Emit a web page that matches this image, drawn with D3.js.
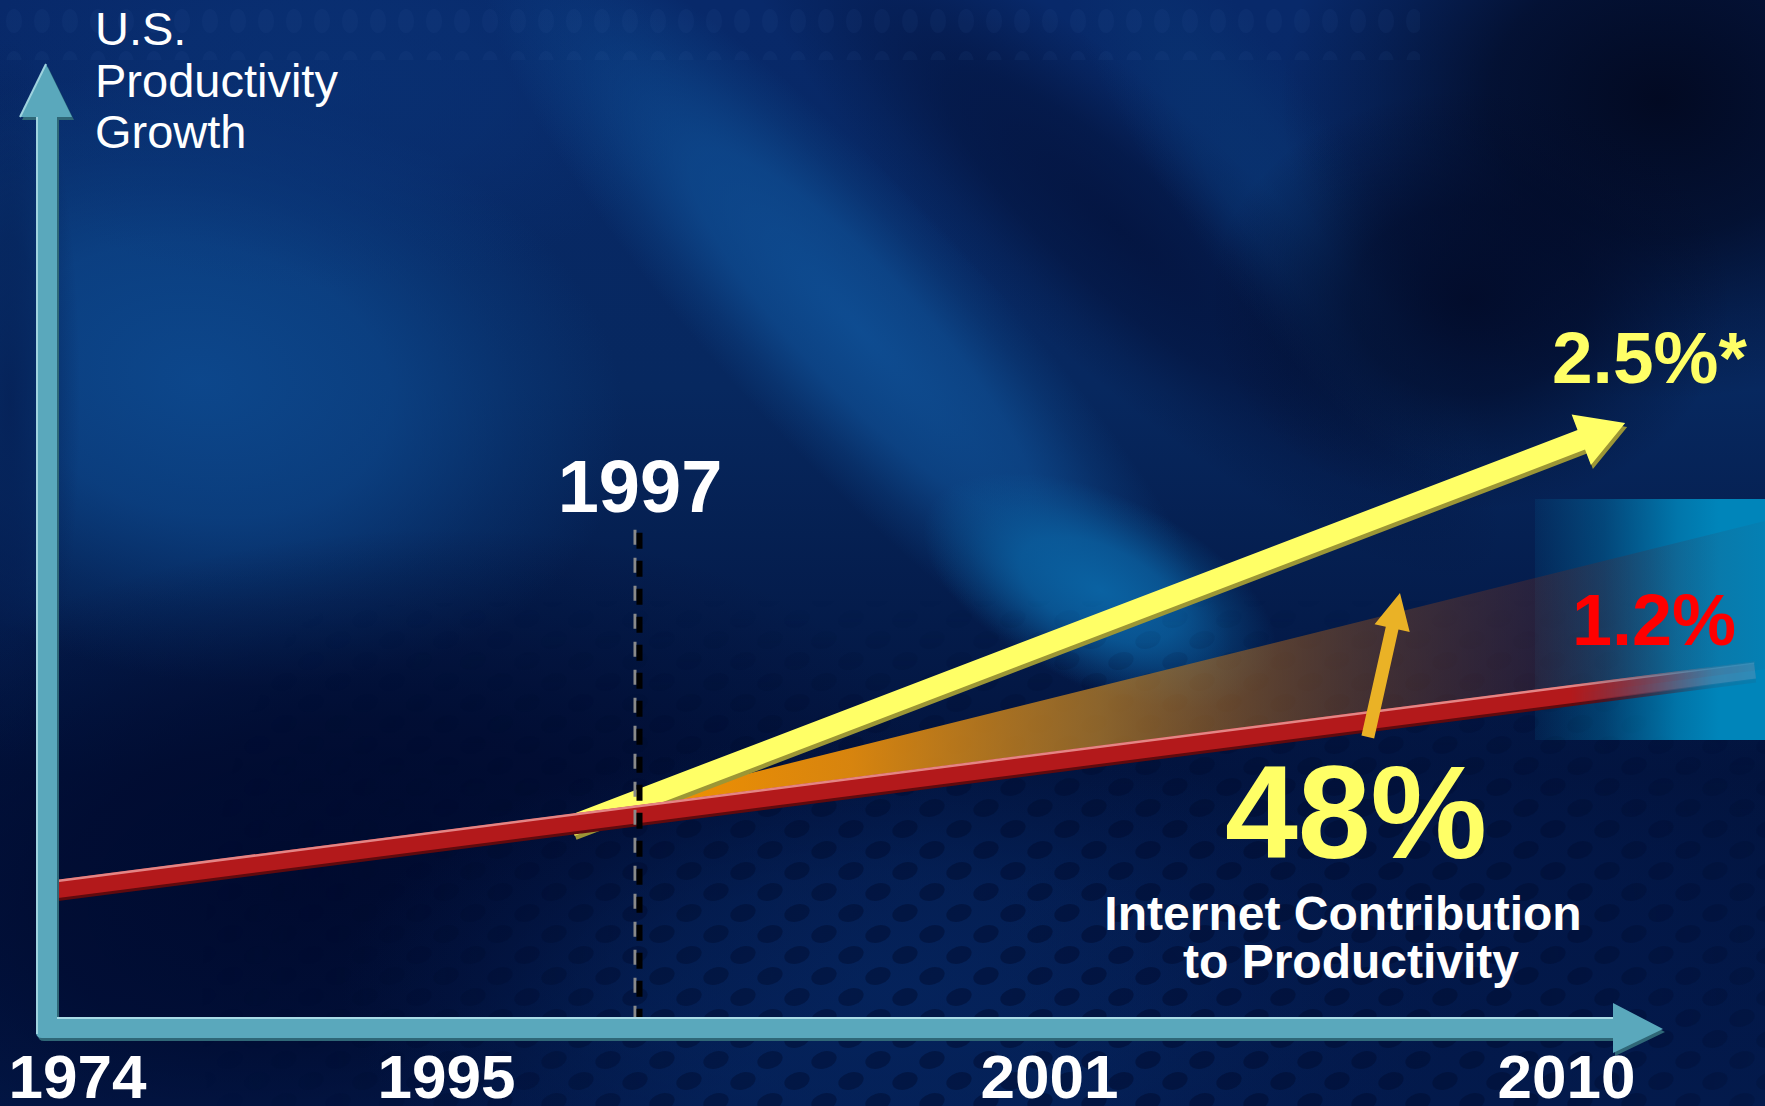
<!DOCTYPE html>
<html><head><meta charset="utf-8">
<script src="https://cdn.jsdelivr.net/npm/d3@7"></script>
<style>html,body{margin:0;padding:0;background:#021a4a;overflow:hidden}</style>
</head><body>
<svg id="chart" width="1765" height="1106"></svg>
<script>
// ---------------- DATA ----------------
const axisYears = [1974, 1995, 2001, 2010];
const markerYear = 1997;
const markerTopValue = 51.8;
const yTitleLines = ["U.S.", "Productivity", "Growth"];
// pre-internet productivity trend (1.2%)
const baselineSeries = [{year: 1972.86, value: 14.45}, {year: 2013.29, value: 37.16}];
// internet-era productivity trend (2.5%*)
const internetSeries = [{year: 1996.3, value: 21.0}, {year: 2011.03, value: 62.89}];
// internet contribution wedge
const contributionBand = [{year: 1997, low: 22.2, high: 23.6}, {year: 2013.46, low: 37.3, high: 52.7}];
// contribution arrow
const contributionArrow = [{year: 2006.55, value: 30.25}, {year: 2007.11, value: 45.22}];
const rateLabels = {internet: "2.5%*", baseline: "1.2%"};
const statValue = "48%";
const statCaption = ["Internet Contribution", "to Productivity"];

// ---------------- SETUP ----------------
const W = 1765, H = 1106;
const FONT = "'Liberation Sans', Arial, Helvetica, sans-serif";
const svg = d3.select("#chart");
const defs = svg.append("defs");

const x = d3.scaleLinear().domain([1974, 1995, 1997, 2001, 2010]).range([77, 446, 638, 1049, 1566]);
const y = d3.scaleLinear().domain([0, 100]).range([1028, 66]);

// ---------------- BACKGROUND ----------------
const bgG = defs.append("linearGradient").attr("id", "bgGrad").attr("x1", 0).attr("y1", 0).attr("x2", 0).attr("y2", 1);
[[0, "#08296a"], [0.35, "#07285f"], [0.7, "#02133d"], [1, "#031a4c"]].forEach(([o, c]) =>
  bgG.append("stop").attr("offset", o).attr("stop-color", c));

const bg = svg.append("g");
bg.append("rect").attr("width", W).attr("height", H).attr("fill", "url(#bgGrad)");
const blobs = [
  {cx: 200, cy: 380, rx: 430, ry: 300, r: 12, c: "#0d4a90", o: 0.9},
  {cx: 330, cy: 90, rx: 360, ry: 200, r: 0, c: "#0a3478", o: 0.6},
  {cx: 10, cy: 400, rx: 70, ry: 360, r: 0, c: "#041c50", o: 0.8},
  {cx: 860, cy: 330, rx: 540, ry: 130, r: 47, c: "#10559d", o: 0.8},
  {cx: 1100, cy: 590, rx: 190, ry: 95, r: 25, c: "#0a62a2", o: 1},
  {cx: 1120, cy: 230, rx: 500, ry: 130, r: 42, c: "#03113a", o: 0.8},
  {cx: 1270, cy: 190, rx: 360, ry: 90, r: 55, c: "#0a3a78", o: 0.5},
  {cx: 1660, cy: 100, rx: 380, ry: 300, r: 0, c: "#02081f", o: 0.95},
  {cx: 1470, cy: 300, rx: 260, ry: 210, r: 0, c: "#020a27", o: 0.9},
  {cx: 320, cy: 880, rx: 620, ry: 340, r: -10, c: "#000a2e", o: 0.95},
  {cx: 900, cy: 990, rx: 560, ry: 260, r: 0, c: "#062a68", o: 0.6},
  {cx: 1450, cy: 950, rx: 460, ry: 280, r: 0, c: "#03194c", o: 0.6}
];
blobs.forEach((b, i) => {
  const g = defs.append("radialGradient").attr("id", "blob" + i);
  [[0, 1], [0.45, 0.75], [0.75, 0.3], [1, 0]].forEach(([o, k]) =>
    g.append("stop").attr("offset", o).attr("stop-color", b.c).attr("stop-opacity", b.o * k));
});
bg.selectAll("ellipse.blob").data(blobs).join("ellipse").attr("class", "blob")
  .attr("cx", d => d.cx).attr("cy", d => d.cy).attr("rx", d => d.rx).attr("ry", d => d.ry)
  .attr("transform", d => `rotate(${d.r},${d.cx},${d.cy})`)
  .attr("fill", (d, i) => `url(#blob${i})`);

// dot pattern (lower right)
const pat = defs.append("pattern").attr("id", "dots").attr("patternUnits", "userSpaceOnUse")
  .attr("width", 54).attr("height", 42);
[[14, 10], [41, 31]].forEach(([cx, cy]) => pat.append("ellipse").attr("cx", cx).attr("cy", cy)
  .attr("rx", 13).attr("ry", 8.5).attr("transform", `rotate(-18,${cx},${cy})`).attr("fill", "#000b2e"));
const dm = defs.append("radialGradient").attr("id", "dotMaskGrad").attr("gradientUnits", "userSpaceOnUse")
  .attr("cx", 1100).attr("cy", 1000).attr("r", 900);
[[0, 0.5], [0.5, 0.42], [0.8, 0.18], [1, 0]].forEach(([o, op]) =>
  dm.append("stop").attr("offset", o).attr("stop-color", "#fff").attr("stop-opacity", op));
defs.append("mask").attr("id", "dotMask").attr("maskUnits", "userSpaceOnUse")
  .attr("x", 0).attr("y", 0).attr("width", W).attr("height", H)
  .append("rect").attr("width", W).attr("height", H).attr("fill", "url(#dotMaskGrad)");
const dv = defs.append("linearGradient").attr("id", "dotVGrad").attr("gradientUnits", "userSpaceOnUse")
  .attr("x1", 0).attr("x2", 0).attr("y1", 600).attr("y2", 820);
[[0, 0], [1, 1]].forEach(([o, op]) =>
  dv.append("stop").attr("offset", o).attr("stop-color", "#fff").attr("stop-opacity", op));
defs.append("mask").attr("id", "dotVMask").attr("maskUnits", "userSpaceOnUse")
  .attr("x", 0).attr("y", 0).attr("width", W).attr("height", H)
  .append("rect").attr("width", W).attr("height", H).attr("fill", "url(#dotVGrad)");
bg.append("g").attr("mask", "url(#dotVMask)")
  .append("rect").attr("y", 560).attr("width", W).attr("height", H - 560)
  .attr("fill", "url(#dots)").attr("mask", "url(#dotMask)");

// faint top dots
const pat2 = defs.append("pattern").attr("id", "dotsTop").attr("patternUnits", "userSpaceOnUse")
  .attr("width", 28).attr("height", 42);
pat2.append("ellipse").attr("cx", 14).attr("cy", 21).attr("rx", 8).attr("ry", 12).attr("fill", "#3a64a8");
bg.append("rect").attr("x", 0).attr("y", 0).attr("width", 1420).attr("height", 60)
  .attr("fill", "url(#dotsTop)").attr("opacity", 0.08);

// cyan panel behind the 1.2% label
const cg = defs.append("linearGradient").attr("id", "cyanGrad").attr("gradientUnits", "userSpaceOnUse")
  .attr("x1", 1535).attr("x2", 1765).attr("y1", 0).attr("y2", 0);
[[0, 0.1], [0.3, 0.38], [0.62, 0.85], [0.8, 1], [1, 1]].forEach(([o, op]) =>
  cg.append("stop").attr("offset", o).attr("stop-color", "#0085ba").attr("stop-opacity", op));
bg.append("rect").attr("x", 1535).attr("y", 499).attr("width", W - 1535).attr("height", 241)
  .attr("fill", "url(#cyanGrad)");

// ---------------- CONTRIBUTION WEDGE ----------------
const og = defs.append("linearGradient").attr("id", "orangeGrad").attr("gradientUnits", "userSpaceOnUse")
  .attr("x1", x(1997)).attr("x2", W).attr("y1", 0).attr("y2", 0);
[[0, "#f39200", 1], [0.19, "#e28a0c", 0.95], [0.41, "#b27a26", 0.78], [0.63, "#8a4e20", 0.5],
 [0.81, "#6a2a22", 0.32], [0.94, "#502034", 0.14], [1, "#502034", 0.05]].forEach(([o, c, op]) =>
  og.append("stop").attr("offset", o).attr("stop-color", c).attr("stop-opacity", op));
const area = d3.area().x(d => x(d.year)).y0(d => y(d.low)).y1(d => y(d.high));
svg.append("path").datum(contributionBand).attr("d", area).attr("fill", "url(#orangeGrad)");

// ---------------- ARROW HELPER ----------------
function arrowPoly(S, T, hw, hl, hh) {
  const dx = T[0] - S[0], dy = T[1] - S[1], L = Math.hypot(dx, dy);
  const ux = dx / L, uy = dy / L, nx = -uy, ny = ux;
  const B = [T[0] - ux * hl, T[1] - uy * hl];
  const p = (P, k) => [P[0] + nx * k, P[1] + ny * k];
  return [p(S, hw), p(B, hw), p(B, hh), T, p(B, -hh), p(B, -hw), p(S, -hw)];
}
const poly = d3.line().curve(d3.curveLinearClosed);

// ---------------- INTERNET ARROW (yellow) ----------------
const yS = [x(internetSeries[0].year), y(internetSeries[0].value)];
const yT = [x(internetSeries[1].year), y(internetSeries[1].value)];
const yPts = arrowPoly(yS, yT, 10.5, 47, 27);
svg.append("path").attr("d", poly(yPts)).attr("fill", "#9c9636").attr("transform", "translate(2,4)");
svg.append("path").attr("d", poly(yPts)).attr("fill", "#ffff66");

// ---------------- BASELINE (red) ----------------
const rg = defs.append("linearGradient").attr("id", "redMaskGrad").attr("gradientUnits", "userSpaceOnUse")
  .attr("x1", 0).attr("x2", W).attr("y1", 0).attr("y2", 0);
[[0, 1], [0.89, 1], [0.93, 0.55], [0.97, 0.12], [1, 0.05]].forEach(([o, op]) =>
  rg.append("stop").attr("offset", o).attr("stop-color", "#fff").attr("stop-opacity", op));
defs.append("mask").attr("id", "redMask").attr("maskUnits", "userSpaceOnUse")
  .attr("x", 0).attr("y", 0).attr("width", W).attr("height", H)
  .append("rect").attr("width", W).attr("height", H).attr("fill", "url(#redMaskGrad)");
const line = d3.line().x(d => x(d.year)).y(d => y(d.value));
svg.append("path").datum(baselineSeries).attr("d", line).attr("fill", "none")
  .attr("stroke", "#8ab8dc").attr("stroke-opacity", 0.28).attr("stroke-width", 16);
const redG = svg.append("g").attr("mask", "url(#redMask)");
redG.append("path").datum(baselineSeries).attr("d", line).attr("fill", "none")
  .attr("stroke", "#5e0a0e").attr("stroke-width", 18).attr("transform", "translate(0,3)");
redG.append("path").datum(baselineSeries).attr("d", line).attr("fill", "none")
  .attr("stroke", "#b3191b").attr("stroke-width", 18);
redG.append("path").datum(baselineSeries).attr("d", line).attr("fill", "none")
  .attr("stroke", "#e48585").attr("stroke-width", 2.5).attr("transform", "translate(0,-8)");

// ---------------- 1997 MARKER ----------------
const mx = x(markerYear);
svg.append("line").attr("x1", mx - 3).attr("x2", mx - 3).attr("y1", y(markerTopValue)).attr("y2", 1017)
  .attr("stroke", "#8a8a8a").attr("stroke-width", 3).attr("stroke-dasharray", "15 13");
svg.append("line").attr("x1", mx + 1.5).attr("x2", mx + 1.5).attr("y1", y(markerTopValue) + 3).attr("y2", 1017)
  .attr("stroke", "#000").attr("stroke-width", 6).attr("stroke-dasharray", "16 12");

// ---------------- CONTRIBUTION ARROW (orange) ----------------
const oS = [x(contributionArrow[0].year), y(contributionArrow[0].value)];
const oT = [x(contributionArrow[1].year), y(contributionArrow[1].value)];
svg.append("path").attr("d", poly(arrowPoly(oS, oT, 6.5, 36, 18))).attr("fill", "#eab226");

// ---------------- AXES ----------------
const ax = svg.append("g");
const axisPath = "M36,117 L20,117 L46,64 L72,117 L57,117 L57,1017 L1613,1017 L1613,1003 L1663,1029 L1613,1053 L1613,1038 L42,1038 Q36,1038 36,1032 Z";
ax.append("path").attr("d", axisPath).attr("fill", "#2f6777").attr("transform", "translate(2,3)");
ax.append("path").attr("d", axisPath).attr("fill", "#5aa8bc");
ax.append("line").attr("x1", 37).attr("x2", 37).attr("y1", 117).attr("y2", 1034).attr("stroke", "#9fd3df").attr("stroke-width", 2);
ax.append("line").attr("x1", 57).attr("x2", 1613).attr("y1", 1018).attr("y2", 1018).attr("stroke", "#a9dbe6").attr("stroke-width", 2);
ax.append("path").attr("d", "M20,117 L46,64").attr("stroke", "#9fd3df").attr("stroke-width", 2);

const xAxis = d3.axisBottom(x).tickValues(axisYears).tickSize(0).tickPadding(0).tickFormat(d3.format("d"));
const xa = svg.append("g").attr("transform", "translate(0,1054)").call(xAxis);
xa.select(".domain").remove();
xa.selectAll("text").attr("fill", "#fff").attr("font-size", 62).attr("font-weight", "bold")
  .attr("font-family", FONT).attr("dy", "0.71em");

// ---------------- TEXT ----------------
svg.append("text").attr("font-family", FONT).attr("font-size", 47).attr("fill", "#fff")
  .selectAll("tspan").data(yTitleLines).join("tspan")
  .attr("x", 95).attr("y", (d, i) => 45 + i * 51.5).text(d => d);

svg.append("text").attr("x", 640).attr("y", 512).attr("text-anchor", "middle")
  .attr("font-family", FONT).attr("font-weight", "bold").attr("font-size", 74).attr("fill", "#fff")
  .text(markerYear);

svg.append("text").attr("x", 1552).attr("y", 383).attr("font-family", FONT).attr("font-weight", "bold")
  .attr("font-size", 73).attr("fill", "#ffff66").text(rateLabels.internet);
svg.append("text").attr("x", 1572).attr("y", 645).attr("font-family", FONT).attr("font-weight", "bold")
  .attr("font-size", 72).attr("fill", "#ff0000").text(rateLabels.baseline);

svg.append("text").attr("x", 1356).attr("y", 858).attr("text-anchor", "middle").attr("font-family", FONT)
  .attr("font-weight", "bold").attr("font-size", 131).attr("fill", "#ffff66").text(statValue);
svg.append("text").attr("font-family", FONT).attr("font-weight", "bold").attr("font-size", 48)
  .attr("fill", "#fff").attr("text-anchor", "middle")
  .selectAll("tspan").data(statCaption).join("tspan")
  .attr("x", (d, i) => i === 0 ? 1343 : 1351).attr("y", (d, i) => 930 + i * 48).text(d => d);
</script>
</body></html>
